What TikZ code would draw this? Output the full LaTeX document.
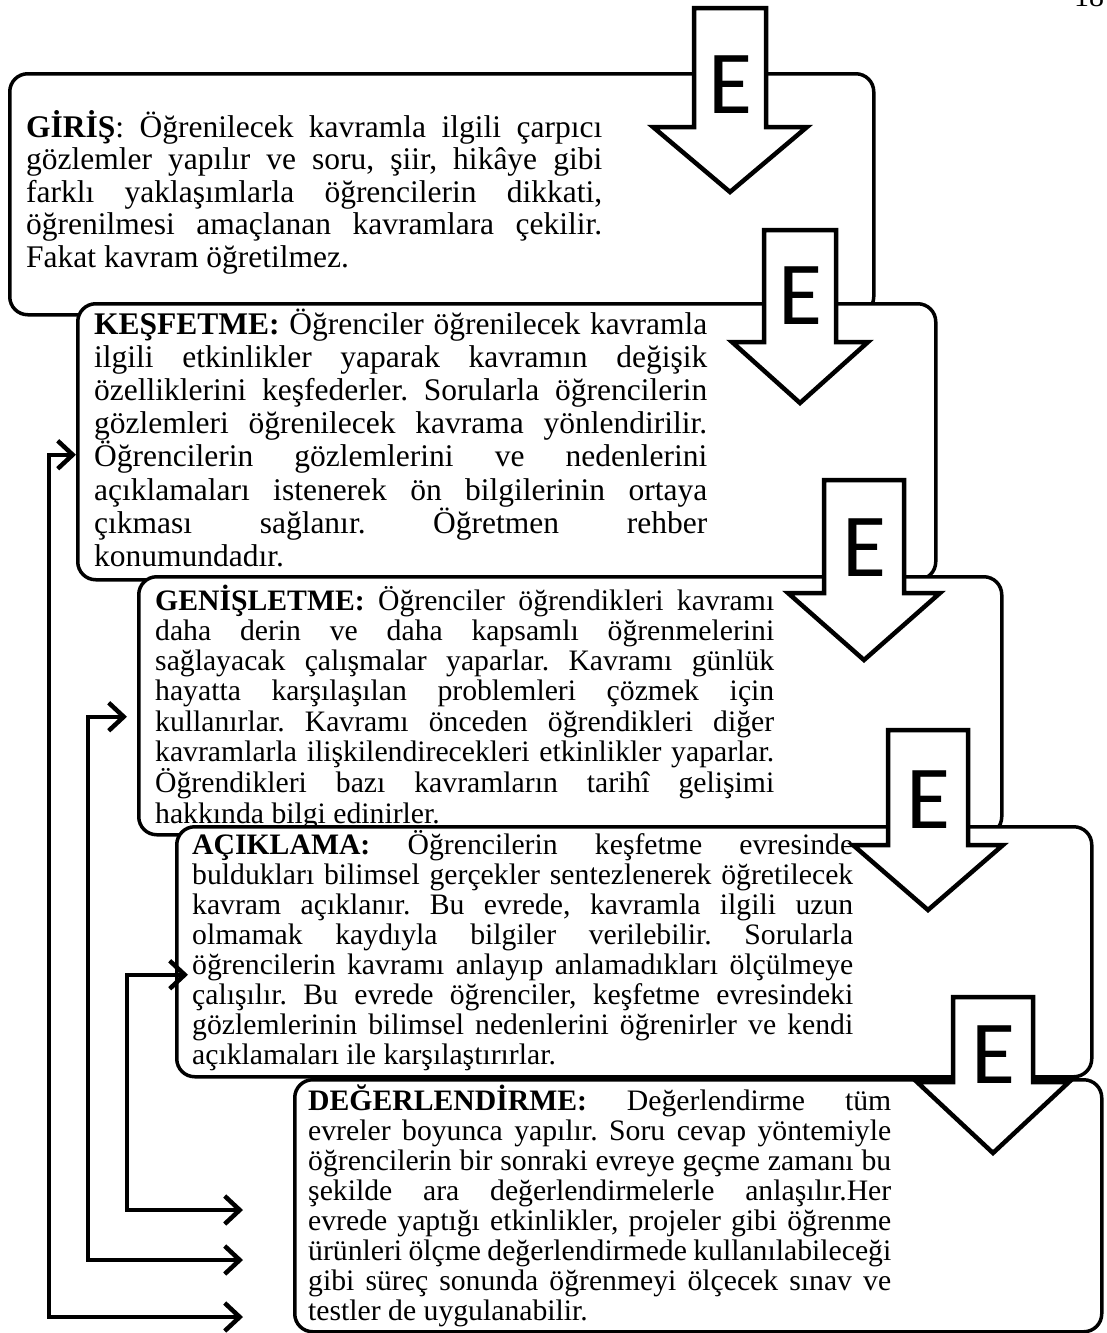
\documentclass[tikz,border=0pt]{standalone}
\usepackage{fontspec}
\setmainfont{Liberation Serif}
\newfontfamily\efont{Carlito}
\usetikzlibrary{arrows.meta}
\frenchspacing

\newcommand{\fl}[1]{\makebox[\hsize][s]{#1}\\}
% name, cx, top, shoulder, tip, shaft half width, wing half width, y of E
\newcommand{\earrow}[8]{%
  \draw[blockarrow] ({#2-#6},#3) -- ({#2+#6},#3) -- ({#2+#6},#4) -- ({#2+#7},#4)
    -- (#2,#5) -- ({#2-#7},#4) -- ({#2-#6},#4) -- cycle;
  \node[eletter] (#1) at (#2,#8) {E};}

\tikzset{
  stagebox/.style={draw, line width=3.5pt, rounded corners=18pt, fill=white,
    anchor=north west, inner sep=0pt},
  stagetext/.style={anchor=base west, inner sep=0pt, align=justify},
  eletter/.style={font=\efont\fontsize{90}{90}\selectfont, inner sep=0pt},
  blockarrow/.style={draw, line width=4.5pt, fill=white, line join=miter},
  feedback/.style={line width=4.5pt, line join=miter,
    {Straight Barb[length=15pt,width=28pt]}-{Straight Barb[length=15pt,width=28pt]}}
}

\begin{document}
\begin{tikzpicture}[x=1pt, y=-1pt]
\useasboundingbox (0,0) rectangle (1106,1333);

\node[anchor=base west, inner sep=0pt, font=\fontsize{30}{30}\selectfont] (pagenum) at (1074,6) {18};

\node[stagebox, minimum width=864pt, minimum height=241pt] (giris) at (8,72) {};
\node[stagetext, text width=576pt, font=\fontsize{31.5}{32.5}\selectfont] (giristxt) at (26,137) {%
\fl{\textbf{GİRİŞ}: Öğrenilecek kavramla ilgili çarpıcı}
\fl{gözlemler yapılır ve soru, şiir, hikâye gibi}
\fl{farklı yaklaşımlarla öğrencilerin dikkati,}
\fl{öğrenilmesi amaçlanan kavramlara çekilir.}
Fakat kavram öğretilmez.};

\node[stagebox, minimum width=858pt, minimum height=276pt] (kesfetme) at (76,302) {};
\node[stagetext, text width=613pt, font=\fontsize{31.5}{33.2}\selectfont] (kesfetmetxt) at (94,334) {%
\fl{\textbf{KEŞFETME:} Öğrenciler öğrenilecek kavramla}
\fl{ilgili etkinlikler yaparak kavramın değişik}
\fl{özelliklerini keşfederler. Sorularla öğrencilerin}
\fl{gözlemleri öğrenilecek kavrama yönlendirilir.}
\fl{Öğrencilerin gözlemlerini ve nedenlerini}
\fl{açıklamaları istenerek ön bilgilerinin ortaya}
\fl{çıkması sağlanır. Öğretmen rehber}
konumundadır.};

\node[stagebox, minimum width=863pt, minimum height=258pt] (genisletme) at (137,575) {};
\node[stagetext, text width=619pt, font=\fontsize{29.7}{30.3}\selectfont] (genisletmetxt) at (155,610) {%
\fl{\textbf{GENİŞLETME:} Öğrenciler öğrendikleri kavramı}
\fl{daha derin ve daha kapsamlı öğrenmelerini}
\fl{sağlayacak çalışmalar yaparlar. Kavramı günlük}
\fl{hayatta karşılaşılan problemleri çözmek için}
\fl{kullanırlar. Kavramı önceden öğrendikleri diğer}
\fl{kavramlarla ilişkilendirecekleri etkinlikler yaparlar.}
\fl{Öğrendikleri bazı kavramların tarihî gelişimi}
hakkında bilgi edinirler.};

\node[stagebox, minimum width=915pt, minimum height=250pt] (aciklama) at (175,825) {};
\node[stagetext, text width=661pt, font=\fontsize{29.7}{30}\selectfont] (aciklamatxt) at (192,854) {%
\fl{\textbf{AÇIKLAMA:} Öğrencilerin keşfetme evresinde}
\fl{buldukları bilimsel gerçekler sentezlenerek öğretilecek}
\fl{kavram açıklanır. Bu evrede, kavramla ilgili uzun}
\fl{olmamak kaydıyla bilgiler verilebilir. Sorularla}
\fl{öğrencilerin kavramı anlayıp anlamadıkları ölçülmeye}
\fl{çalışılır. Bu evrede öğrenciler, keşfetme evresindeki}
\fl{gözlemlerinin bilimsel nedenlerini öğrenirler ve kendi}
açıklamaları ile karşılaştırırlar.};

\node[stagebox, minimum width=807pt, minimum height=252pt] (degerlendirme) at (293,1078) {};
\node[stagetext, text width=583pt, font=\fontsize{29.7}{30}\selectfont] (degerlendirmetxt) at (308,1110) {%
\fl{\textbf{DEĞERLENDİRME:} Değerlendirme tüm}
\fl{evreler boyunca yapılır. Soru cevap yöntemiyle}
\fl{öğrencilerin bir sonraki evreye geçme zamanı bu}
\fl{şekilde ara değerlendirmelerle anlaşılır.Her}
\fl{evrede yaptığı etkinlikler, projeler gibi öğrenme}
\fl{ürünleri ölçme değerlendirmede kullanılabileceği}
\fl{gibi süreç sonunda öğrenmeyi ölçecek sınav ve}
testler de uygulanabilir.};

\earrow{e1}{730}{8}{127}{192}{36}{77}{85}
\earrow{e2}{800}{230}{342}{403}{36}{68}{296}
\earrow{e3}{864}{480}{593}{660}{40}{76}{548}
\earrow{e4}{928}{730}{845}{910}{40}{75}{800}
\earrow{e5}{993}{997}{1082}{1153}{40}{76}{1055}

\coordinate (d1) at (243,1210);
\coordinate (d2) at (243,1260);
\coordinate (d3) at (243,1317);
\draw[feedback] ([yshift=-13pt]kesfetme.west) -- ++(-27,0) |- (d3);
\draw[feedback] ([xshift=-10pt,yshift=-11pt]genisletme.west) -- ++(-39,0) |- (d2);
\draw[feedback] ([xshift=13pt,yshift=-23pt]aciklama.west) -- ++(-61,0) |- (d1);
\end{tikzpicture}
\end{document}
